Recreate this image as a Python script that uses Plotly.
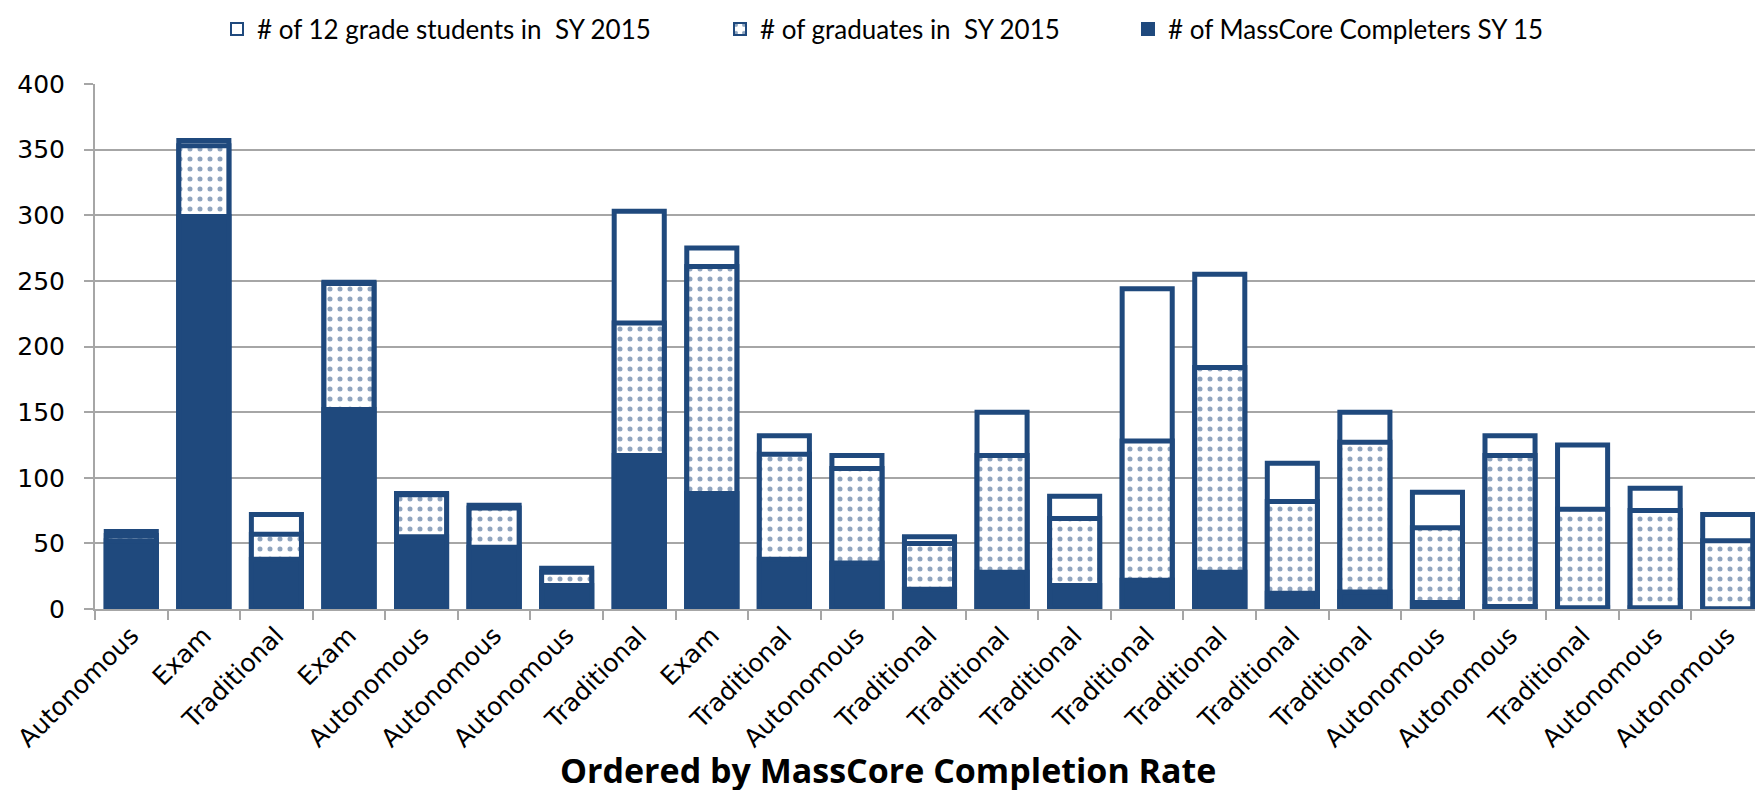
import plotly.graph_objects as go

categories = ["Autonomous", "Exam", "Traditional", "Exam", "Autonomous", "Autonomous",
              "Autonomous", "Traditional", "Exam", "Traditional", "Autonomous", "Traditional",
              "Traditional", "Traditional", "Traditional", "Traditional", "Traditional",
              "Traditional", "Autonomous", "Autonomous", "Traditional", "Autonomous", "Autonomous"]
grade12 = [59, 357, 72, 249, 88, 79, 31, 303, 275, 132, 117, 55, 150, 86, 244, 255, 111, 150, 89, 132, 125, 92, 72]
graduates = [56, 353, 57, 248, 87, 77, 28, 218, 261, 118, 107, 50, 117, 69, 128, 184, 82, 127, 62, 117, 76, 75, 52]
masscore = [52, 299, 38, 152, 55, 47, 18, 117, 88, 38, 35, 15, 28, 18, 22, 28, 12, 13, 5, 2, 1, 1, 0]

series_names = ["# of 12 grade students in  SY 2015", "# of graduates in  SY 2015",
                "# of MassCore Completers SY 15"]

BLUE = "#1F497D"
GRID = "#A6A6A6"
W, H = 1763, 790
L, R, T, B = 87, 7, 76, 189
PW = W - L - R
PH = H - T - B

xs = list(range(len(categories)))

fig = go.Figure()
fig.add_trace(go.Bar(
    x=xs, y=grade12, name=series_names[0], width=0.69,
    marker=dict(color="white", line=dict(color=BLUE, width=5)),
    legend="legend",
))
fig.add_trace(go.Bar(
    x=xs, y=graduates, name=series_names[1], width=0.69,
    marker=dict(color="white", line=dict(color=BLUE, width=5),
                pattern=dict(shape=".", fgcolor=BLUE, bgcolor="white", size=10,
                             solidity=0.2, fillmode="overlay")),
    legend="legend2",
))
fig.add_trace(go.Bar(
    x=xs, y=masscore, name=series_names[2], width=0.69,
    marker=dict(color=BLUE, line=dict(color=BLUE, width=5)),
    legend="legend3",
))

def px_x(p):
    return (p - L) / PW

def px_y(p):
    return (H - B - p) / PH

leg_common = dict(orientation="h", yanchor="middle", xanchor="left",
                  font=dict(family="Lato, sans-serif", size=26, color="black"),
                  bgcolor="rgba(0,0,0,0)", borderwidth=0, itemsizing="constant",
                  itemwidth=30)

fig.update_layout(
    width=W, height=H,
    margin=dict(l=L, r=R, t=T, b=B, autoexpand=False),
    paper_bgcolor="white", plot_bgcolor="white",
    barmode="overlay",
    showlegend=True,
    legend=dict(x=px_x(239 - 30), y=px_y(21), **leg_common),
    legend2=dict(x=px_x(742 - 30), y=px_y(21), **leg_common),
    legend3=dict(x=px_x(1150 - 30), y=px_y(21), **leg_common),
    xaxis=dict(
        range=[-0.5, len(categories) - 0.5],
        tickmode="array", tickvals=xs, ticktext=categories,
        tickangle=-45, ticks="", showgrid=False, zeroline=False,
        showline=True, linecolor=GRID, linewidth=2,
        tickfont=dict(family="DejaVu Sans, Verdana, sans-serif", size=25, color="black"),
        minor=dict(tickmode="array", tickvals=[i - 0.5 for i in range(len(categories) + 1)],
                   ticks="outside", ticklen=9, tickcolor=GRID, tickwidth=2, showgrid=False),
    ),
    yaxis=dict(
        range=[0, 400], dtick=50, tick0=0,
        showgrid=True, gridcolor=GRID, gridwidth=1.5,
        zeroline=False, showline=True, linecolor=GRID, linewidth=2,
        ticks="outside", ticklen=9, tickcolor=GRID, tickwidth=1.5,
        ticklabelstandoff=14,
        tickfont=dict(family="DejaVu Sans, Verdana, sans-serif", size=25, color="black"),
    ),
    annotations=[dict(
        text="<b>Ordered by MassCore Completion Rate</b>",
        xref="paper", yref="paper", x=px_x(880), y=px_y(762),
        xanchor="center", yanchor="middle", showarrow=False,
        font=dict(family="Open Sans, sans-serif", size=34, color="black"),
    )],
)

fig.write_html("out.html")
